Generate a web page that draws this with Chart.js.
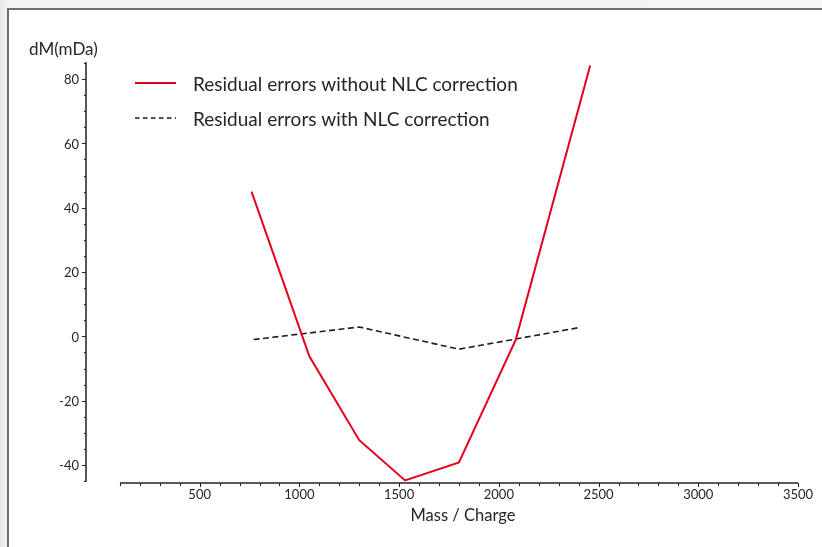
<!DOCTYPE html>
<html lang="en">
<head>
    <meta charset="UTF-8">
    <title>Residual errors - NLC correction</title>
    <script src="https://cdn.jsdelivr.net/npm/chart.js"></script>
    <style>
        html, body { margin: 0; padding: 0; width: 822px; height: 547px; overflow: hidden; }
        body { background: linear-gradient(90deg, #e6e6e6, #f4f4f4 8px, #f6f6f6); }
        #frame {
            position: absolute; left: 7px; top: 8px; width: 830px; height: 560px;
            border-left: 2px solid #6f6f6f; border-top: 2px solid #6f6f6f;
            background: #fff;
        }
        #chart { position: absolute; left: 0; top: 0; }
    </style>
</head>
<body>
    <div id="frame"></div>
    <canvas id="chart" width="822" height="547"></canvas>

    <script>
        // data
        const withoutMass = [760, 1050, 1300, 1530, 1800, 2085, 2458];
        const withoutErr = [45, -6.2, -32.3, -44.8, -39.2, -1, 84.2];
        const withMass = [770, 1300, 1800, 2410];
        const withErr = [-1, 2.9, -4, 2.8];

        const xTicks = [500, 1000, 1500, 2000, 2500, 3000, 3500];
        const yTicks = [-40, -20, 0, 20, 40, 60, 80];

        const labelFont = '13px Lato, "DejaVu Sans", sans-serif';
        const textColor = '#262626';

        // axes, ticks, legend drawn by hand so they look like the original
        const axesPlugin = {
            id: 'axes',
            afterDraw(chart) {
                const ctx = chart.ctx;
                const xs = chart.scales.x;
                const ys = chart.scales.y;
                const yAxisX = chart.chartArea.left;
                const xAxisY = chart.chartArea.bottom;

                ctx.save();
                ctx.strokeStyle = '#222';
                ctx.lineWidth = 1.5;
                ctx.setLineDash([]);

                // y axis
                ctx.beginPath();
                ctx.moveTo(yAxisX, ys.getPixelForValue(85.3));
                ctx.lineTo(yAxisX, xAxisY - 1);
                ctx.stroke();
                ctx.lineWidth = 1;
                for (let v = -45; v <= 85; v += 5) {
                    const py = Math.round(ys.getPixelForValue(v)) + 0.5;
                    const len = v % 20 === 0 ? 4 : 2;
                    ctx.beginPath();
                    ctx.moveTo(yAxisX - len, py);
                    ctx.lineTo(yAxisX, py);
                    ctx.stroke();
                }

                // x axis
                ctx.lineWidth = 1.5;
                ctx.beginPath();
                ctx.moveTo(xs.getPixelForValue(100), xAxisY);
                ctx.lineTo(xs.getPixelForValue(3500), xAxisY);
                ctx.stroke();
                ctx.lineWidth = 1;
                for (let v = 100; v <= 3500; v += 100) {
                    const px = Math.round(xs.getPixelForValue(v)) + 0.5;
                    const len = v % 500 === 0 ? 4 : 3;
                    ctx.beginPath();
                    ctx.moveTo(px, xAxisY);
                    ctx.lineTo(px, xAxisY + len);
                    ctx.stroke();
                }

                // tick labels
                ctx.fillStyle = textColor;
                ctx.font = labelFont;
                ctx.textAlign = 'right';
                ctx.textBaseline = 'middle';
                yTicks.forEach(v => ctx.fillText(String(v), yAxisX - 7, ys.getPixelForValue(v) + 1));
                ctx.textAlign = 'center';
                ctx.textBaseline = 'top';
                xTicks.forEach(v => ctx.fillText(String(v), xs.getPixelForValue(v), xAxisY + 5));

                // axis titles
                ctx.textBaseline = 'alphabetic';
                ctx.font = '16.5px Lato, "DejaVu Sans", sans-serif';
                ctx.textAlign = 'center';
                ctx.fillText('Mass / Charge', xs.getPixelForValue(1820), 521);
                ctx.font = '17px Lato, "DejaVu Sans", sans-serif';
                ctx.textAlign = 'left';
                ctx.fillText('dM(mDa)', 29, 55);

                // legend
                ctx.font = '19px Lato, "DejaVu Sans", sans-serif';
                ctx.textBaseline = 'middle';
                chart.data.datasets.forEach((ds, i) => {
                    const ly = 83 + i * 35;
                    ctx.strokeStyle = ds.borderColor;
                    ctx.lineWidth = ds.borderWidth;
                    ctx.setLineDash(ds.borderDash ? [4.5, 3.5] : []);
                    ctx.beginPath();
                    ctx.moveTo(135, ly);
                    ctx.lineTo(176, ly);
                    ctx.stroke();
                    ctx.setLineDash([]);
                    ctx.fillStyle = textColor;
                    ctx.fillText(ds.label, 193, ly + 2);
                });
                ctx.restore();
            }
        };

        new Chart(document.getElementById('chart'), {
            type: 'line',
            data: {
                datasets: [
                    {
                        label: 'Residual errors without NLC correction',
                        data: withoutMass.map((m, i) => ({ x: m, y: withoutErr[i] })),
                        borderColor: '#e3001b',
                        borderWidth: 2,
                        pointRadius: 0,
                        tension: 0
                    },
                    {
                        label: 'Residual errors with NLC correction',
                        data: withMass.map((m, i) => ({ x: m, y: withErr[i] })),
                        borderColor: '#1e1e1e',
                        borderWidth: 1.6,
                        borderDash: [6, 3.5],
                        pointRadius: 0,
                        tension: 0
                    }
                ]
            },
            options: {
                responsive: false,
                animation: false,
                layout: { padding: { left: 86, right: 24, top: 62, bottom: 64 } },
                plugins: { legend: { display: false }, tooltip: { enabled: false } },
                scales: {
                    x: { type: 'linear', min: -70, max: 3500, display: false },
                    y: { type: 'linear', min: -45.6, max: 85.3, display: false }
                }
            },
            plugins: [axesPlugin]
        });
    </script>
</body>
</html>
